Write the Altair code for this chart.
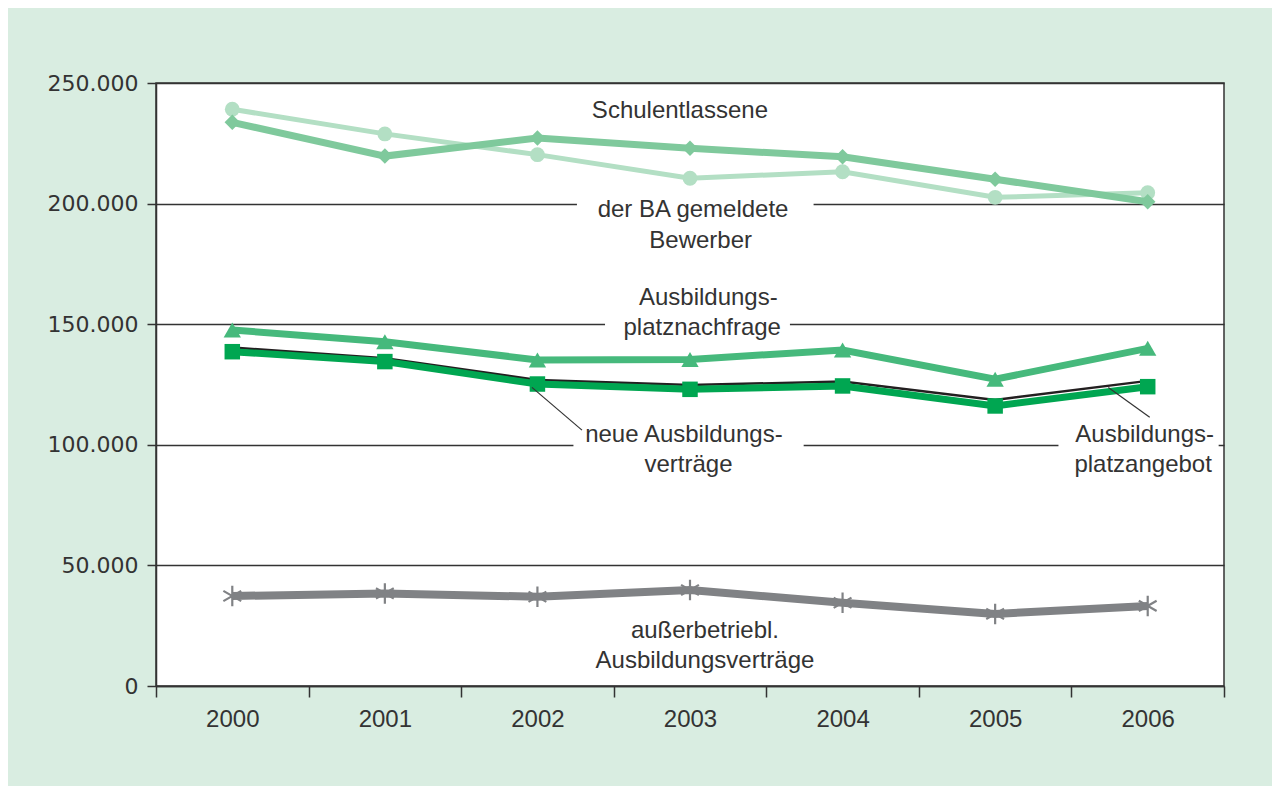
import altair as alt
import pandas as pd

# ---------------- data ----------------
years = [2000, 2001, 2002, 2003, 2004, 2005, 2006]
schulentlassene = [239100, 228900, 220300, 210500, 213200, 202600, 204500]
ba_bewerber = [233700, 219700, 227200, 222900, 219400, 210100, 200800]
nachfrage = [147600, 142700, 135200, 135400, 139300, 127200, 140000]
angebot = [140300, 135900, 126900, 124800, 126200, 118600, 126500]
neue_vertraege = [138600, 134500, 125200, 123000, 124400, 116100, 124100]
ausserbetrieblich = [37300, 38400, 37000, 39800, 34500, 29900, 33200]

y_ticks = [0, 50000, 100000, 150000, 200000, 250000]
x_tick_positions = [1999.5, 2000.5, 2001.5, 2002.5, 2003.5, 2004.5, 2005.5, 2006.5]

# annotation lines (text, x in years, y in values)
ann_text = ["Schulentlassene", "der BA gemeldete", "Bewerber",
            "Ausbildungs-", "platznachfrage",
            "neue Ausbildungs-", "verträge",
            "Ausbildungs-", "platzangebot",
            "außerbetriebl.", "Ausbildungsverträge"]
ann_x = [2002.934, 2003.02, 2003.07, 2003.12, 2003.08, 2002.96, 2002.99,
         2005.98, 2005.97, 2003.098, 2003.098]
ann_y = [238400, 197300, 184500, 160900, 148400, 103900, 91600,
         103900, 91600, 22800, 10400]

# white gaps in the grid lines behind the labels
gap_x1 = [2002.259, 2002.443, 2002.236, 2005.415]
gap_x2 = [2003.810, 2003.655, 2003.745, 2006.465]
gap_y1 = [197000, 147000, 97000, 97000]
gap_y2 = [203000, 153000, 103000, 103000]

# leader lines
lead_x1 = [2001.964, 2005.742]
lead_x2 = [2002.292, 2006.013]
lead_y1 = [123800, 123800]
lead_y2 = [106100, 111400]

# ---------------- chart ----------------
W, H = 1068, 603
half_band = W / 7 / 2

x_scale = alt.Scale(domain=[1999.5, 2006.5], nice=False, zero=False)
y_scale = alt.Scale(domain=[0, 250000], nice=False, zero=True)

x_axis = alt.Axis(
    values=x_tick_positions,
    labelExpr="datum.value > 2006 ? '' : toString(datum.value + 0.5)",
    labelOffset=half_band, labelFlush=False, labelOverlap=False,
    tickSize=11, tickColor="#333333", tickWidth=1.5,
    domainColor="#333333", domainWidth=1.5,
    grid=False, labelFont="Liberation Sans", labelFontSize=24,
    labelColor="#333333", labelPadding=10, title=None,
)
y_axis = alt.Axis(
    values=y_ticks,
    labelExpr="replace(format(datum.value, ','), ',', '.')",
    grid=True, gridColor="#333333", gridWidth=1.5,
    tickSize=9, tickColor="#333333", tickWidth=1.5,
    domainColor="#333333", domainWidth=1.5,
    labelFont="DejaVu Sans", labelFontSize=22, labelColor="#333333",
    labelPadding=9, title=None,
)


def series_df(values):
    return pd.DataFrame({"year": years, "value": values})


def xq(field):
    return alt.X(field, scale=x_scale, axis=x_axis)


def yq(field):
    return alt.Y(field, scale=y_scale, axis=y_axis)


layers = []

# grid gaps
gaps = pd.DataFrame({"x1": gap_x1, "x2": gap_x2, "y1": gap_y1, "y2": gap_y2})
layers.append(
    alt.Chart(gaps).mark_rect(color="white").encode(
        x=xq("x1:Q"), x2="x2:Q", y=yq("y1:Q"), y2="y2:Q",
    )
)

styles = [
    (schulentlassene, "#b3dfc4", 5, "circle", 220, True),
    (ba_bewerber, "#7fc99c", 7, "diamond", 240, True),
    (nachfrage, "#46b97c", 7, "triangle-up", 300, True),
    (angebot, "#231f20", 2.5, None, 0, True),
    (neue_vertraege, "#00a651", 7, "square", 240, True),
    (ausserbetrieblich, "#808285", 8,
     "M0,-1L0,1M-0.87,-0.5L0.87,0.5M-0.87,0.5L0.87,-0.5", 420, False),
]

for vals, col, sw, shape, size, filled in styles:
    df = series_df(vals)
    layers.append(alt.Chart(df).mark_line(color=col, strokeWidth=sw).encode(
        x=xq("year:Q"), y=yq("value:Q")))
    if shape:
        if filled:
            pm = alt.Chart(df).mark_point(shape=shape, size=size, filled=True,
                                          color=col, opacity=1)
        else:
            pm = alt.Chart(df).mark_point(shape=shape, size=size, filled=False,
                                          stroke=col, strokeWidth=2.2, opacity=1)
        layers.append(pm.encode(x=xq("year:Q"), y=yq("value:Q")))

leads = pd.DataFrame({"x1": lead_x1, "x2": lead_x2, "y1": lead_y1, "y2": lead_y2})
layers.append(
    alt.Chart(leads).mark_rule(color="#333333", strokeWidth=1.2).encode(
        x=xq("x1:Q"), x2="x2:Q", y=yq("y1:Q"), y2="y2:Q",
    )
)

ann = pd.DataFrame({"text": ann_text, "x": ann_x, "y": ann_y})
layers.append(
    alt.Chart(ann).mark_text(font="Liberation Sans", fontSize=24, color="#333333",
                             align="center", baseline="middle").encode(
        x=xq("x:Q"), y=yq("y:Q"), text="text:N",
    )
)

chart = alt.layer(*layers).properties(
    width=W, height=H,
    autosize=alt.AutoSizeParams(type="none"),
    padding={"left": 148, "top": 75, "right": 48, "bottom": 100},
    background="#d9ede1",
).configure_view(
    fill="white", stroke="#333333", strokeWidth=1.5,
)

chart.save("out.html", embed_options={"renderer": "svg", "actions": False})
